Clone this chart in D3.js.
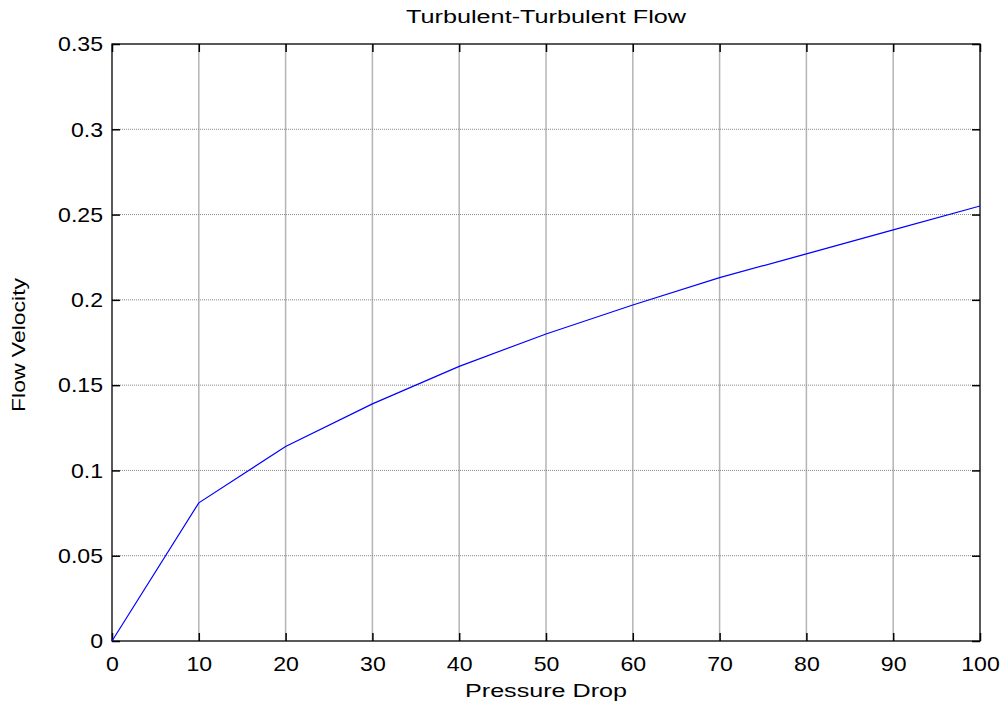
<!DOCTYPE html>
<html>
<head>
<meta charset="utf-8">
<script src="https://cdn.jsdelivr.net/npm/d3@7"></script>
<style>
  body { margin: 0; background: #fff; }
  text { font-family: "Liberation Sans", Arial, sans-serif; fill: #000; }
</style>
</head>
<body>
<div id="wrapper"></div>
<script>
// data
const pressureDrop = [0, 10, 20, 30, 40, 50, 60, 70, 80, 90, 100];
const flowVelocity = [0, 0.081, 0.114, 0.139, 0.161, 0.180, 0.197, 0.213, 0.227, 0.241, 0.255];
const xTicks = [0, 10, 20, 30, 40, 50, 60, 70, 80, 90, 100];
const yTicks = [0, 0.05, 0.1, 0.15, 0.2, 0.25, 0.3, 0.35];
const yTickLabels = ["0", "0.05", "0.1", "0.15", "0.2", "0.25", "0.3", "0.35"];

const dimensions = {
  width: 1003,
  height: 705,
  margin: { top: 44, right: 23, bottom: 64, left: 112 },
};
dimensions.boundedWidth = dimensions.width - dimensions.margin.left - dimensions.margin.right;
dimensions.boundedHeight = dimensions.height - dimensions.margin.top - dimensions.margin.bottom;

const dataset = pressureDrop.map((x, i) => ({ x, y: flowVelocity[i] }));

const svg = d3.select("#wrapper")
  .append("svg")
  .attr("width", dimensions.width)
  .attr("height", dimensions.height);

const bounds = svg.append("g")
  .attr("transform", `translate(${dimensions.margin.left},${dimensions.margin.top})`);

const xScale = d3.scaleLinear().domain([0, 100]).range([0, dimensions.boundedWidth]);
const yScale = d3.scaleLinear().domain([0, 0.35]).range([dimensions.boundedHeight, 0]);

// grid
bounds.append("g")
  .selectAll("line")
  .data(xTicks.slice(1, -1))
  .join("line")
  .attr("x1", d => xScale(d)).attr("x2", d => xScale(d))
  .attr("y1", 0).attr("y2", dimensions.boundedHeight)
  .attr("stroke", "#b4b4b4")
  .attr("stroke-width", 1.5);

bounds.append("g")
  .selectAll("line")
  .data(yTicks.slice(1, -1))
  .join("line")
  .attr("x1", 0).attr("x2", dimensions.boundedWidth)
  .attr("y1", d => yScale(d)).attr("y2", d => yScale(d))
  .attr("stroke", "#888")
  .attr("stroke-width", 1)
  .attr("stroke-dasharray", "1,1");

// inward ticks on all four sides
const tickLen = 8;
const axisBottom = d3.axisBottom(xScale).tickValues(xTicks).tickSizeInner(-tickLen).tickSizeOuter(0).tickPadding(15);
const axisTop = d3.axisTop(xScale).tickValues(xTicks).tickSizeInner(-tickLen).tickSizeOuter(0).tickFormat("");
const axisLeft = d3.axisLeft(yScale).tickValues(yTicks).tickSizeInner(-tickLen).tickSizeOuter(0).tickPadding(9)
  .tickFormat((d, i) => yTickLabels[i]);
const axisRight = d3.axisRight(yScale).tickValues(yTicks).tickSizeInner(-tickLen).tickSizeOuter(0).tickFormat("");

const styleAxis = g => {
  g.select(".domain").remove();
  g.selectAll(".tick line").attr("stroke", "#000").attr("stroke-width", 1.5);
  g.selectAll(".tick text")
    .attr("font-size", 21)
    .attr("font-family", "Liberation Sans, Arial, sans-serif")
    .attr("fill", "#000");
};

bounds.append("g").attr("transform", `translate(0,${dimensions.boundedHeight})`).call(axisBottom).call(styleAxis);
bounds.append("g").call(axisTop).call(styleAxis);
bounds.append("g").call(axisLeft).call(styleAxis);
bounds.append("g").attr("transform", `translate(${dimensions.boundedWidth},0)`).call(axisRight).call(styleAxis);

// widen tick labels a little, as in the reference
bounds.selectAll(".tick text").each(function () {
  const w = this.getComputedTextLength();
  if (w > 0) d3.select(this).attr("textLength", w * 1.1).attr("lengthAdjust", "spacingAndGlyphs");
});

// box
bounds.append("rect")
  .attr("width", dimensions.boundedWidth)
  .attr("height", dimensions.boundedHeight)
  .attr("fill", "none")
  .attr("stroke", "#000")
  .attr("stroke-width", 1.3);

// line
const lineGenerator = d3.line()
  .x(d => xScale(d.x))
  .y(d => yScale(d.y));

bounds.append("path")
  .attr("d", lineGenerator(dataset))
  .attr("fill", "none")
  .attr("stroke", "#0000ff")
  .attr("stroke-width", 1.2);

// labels
const cx = dimensions.margin.left + dimensions.boundedWidth / 2;

svg.append("text")
  .attr("x", cx).attr("y", 23)
  .attr("text-anchor", "middle")
  .attr("font-size", 18)
  .attr("textLength", 280).attr("lengthAdjust", "spacingAndGlyphs")
  .text("Turbulent-Turbulent Flow");

svg.append("text")
  .attr("x", cx).attr("y", 697)
  .attr("text-anchor", "middle")
  .attr("font-size", 18)
  .attr("textLength", 162).attr("lengthAdjust", "spacingAndGlyphs")
  .text("Pressure Drop");

svg.append("text")
  .attr("transform", `translate(25,345) rotate(-90)`)
  .attr("text-anchor", "middle")
  .attr("font-size", 18)
  .attr("textLength", 134).attr("lengthAdjust", "spacingAndGlyphs")
  .text("Flow Velocity");
</script>
</body>
</html>
